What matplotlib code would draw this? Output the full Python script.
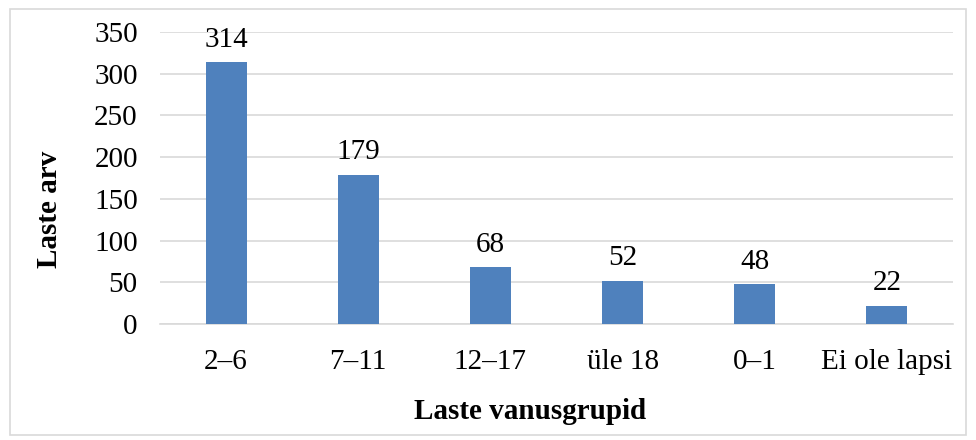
import matplotlib
matplotlib.use("Agg")
import matplotlib.pyplot as plt
from matplotlib.patches import Rectangle

categories = ["2–6", "7–11", "12–17", "üle 18", "0–1", "Ei ole lapsi"]
values = [314, 179, 68, 52, 48, 22]
yticks = [0, 50, 100, 150, 200, 250, 300, 350]

plt.rcParams['font.family'] = ['Liberation Serif', 'DejaVu Serif']
FS = 21

fig = plt.figure(figsize=(9.76, 4.4), dpi=100)
ax = fig.add_axes([160/976, 1-324/440, (953-160)/976, (324-32)/440])

x = list(range(len(categories)))
ax.bar(x, values, width=0.31, color='#4F81BD', zorder=3)
for xi, v in zip(x, values):
    ax.text(xi, v + 11, str(v), ha='center', va='bottom', fontsize=FS, color='#000000')

ax.set_xlim(-0.5, len(categories) - 0.5)
ax.set_ylim(0, 350)
ax.set_yticks(yticks)
ax.set_yticklabels([str(t) for t in yticks], fontsize=FS)
ax.set_xticks(x)
ax.set_xticklabels(categories, fontsize=FS)
ax.tick_params(axis='both', length=0)
ax.tick_params(axis='y', pad=16)
ax.tick_params(axis='x', pad=18)
ax.grid(axis='y', color='#D9D9D9', linewidth=1.2, zorder=0)
for s in ['top', 'right', 'left']:
    ax.spines[s].set_visible(False)
ax.spines['bottom'].set_color('#D9D9D9')
ax.spines['bottom'].set_linewidth(1.2)

ax.set_ylabel('Laste arv', fontsize=FS, fontweight='bold')
ax.yaxis.set_label_coords(-0.122, 0.394)
ax.set_xlabel('Laste vanusgrupid', fontsize=FS, fontweight='bold')
ax.xaxis.set_label_coords(0.467, -0.254)

fig.patches.append(Rectangle((10/976, 1-435/440), (966-10)/976, (435-9)/440,
                             transform=fig.transFigure, fill=False,
                             edgecolor='#D9D9D9', linewidth=1.2))

fig.savefig('out.png', dpi=100)
